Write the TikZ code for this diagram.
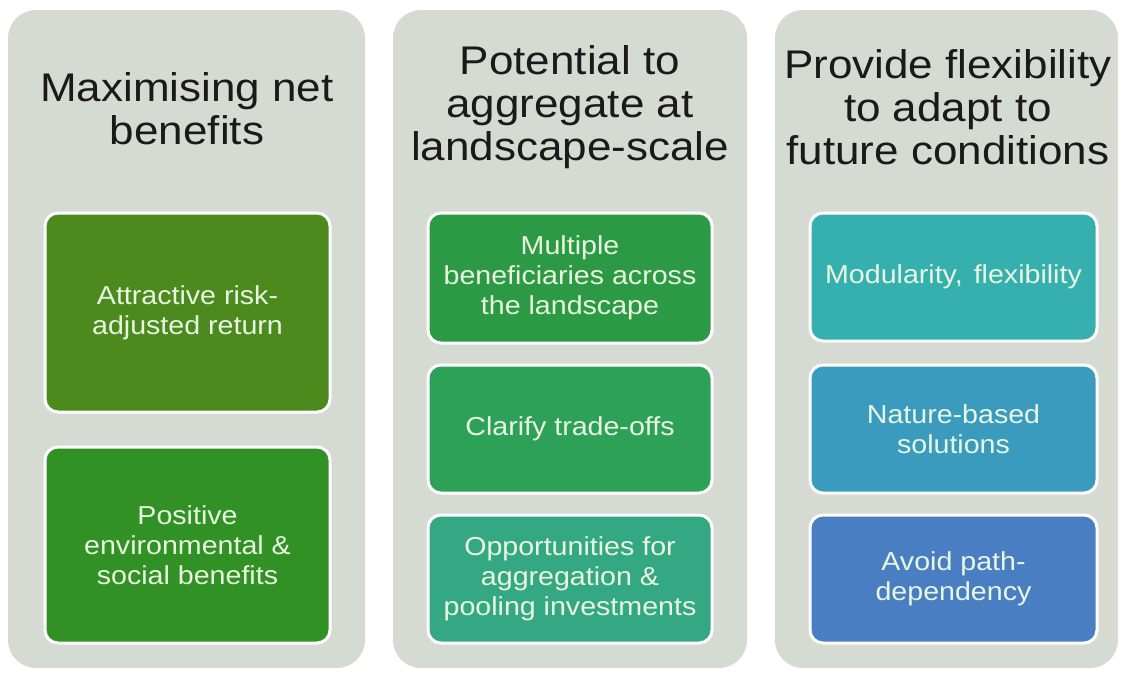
\documentclass[tikz,border=0pt]{standalone}
\usepackage{fontspec}
\setmainfont{Liberation Sans}[FakeStretch=1.1]
\usepackage{xcolor}
\usetikzlibrary{positioning}
\definecolor{panelbg}{RGB}{213,219,211}
\definecolor{titletext}{RGB}{26,26,26}
\definecolor{itemtext}{RGB}{232,245,224}
\definecolor{olive}{RGB}{76,138,30}
\definecolor{leaf}{RGB}{50,145,36}
\definecolor{grass}{RGB}{44,154,68}
\definecolor{jade}{RGB}{46,161,88}
\definecolor{seagreen}{RGB}{52,168,130}
\definecolor{teal}{RGB}{54,176,174}
\definecolor{ocean}{RGB}{58,155,190}
\definecolor{sky}{RGB}{74,126,194}

\begin{document}
\begin{tikzpicture}[
    x=1pt, y=-1pt,
    panel/.style={rectangle, rounded corners=28pt, fill=panelbg, minimum height=658pt, inner sep=0pt},
    title/.style={align=center, text=titletext, font=\fontsize{40}{43}\selectfont},
    item/.style={rectangle, draw=white, line width=3pt, rounded corners=13pt, inner sep=0pt, align=center, text=itemtext, font=\fontsize{26}{30}\selectfont},
]
    \useasboundingbox[fill=white] (0,0) rectangle (1122,673);

    % Column 1: net benefits
    \node[panel, minimum width=357pt] (benefits) at (186.5,339) {};
    \node[title] (benefitstitle) at (187,109) {Maximising net\\benefits};
    \node[item, fill=olive, minimum width=285pt, minimum height=199pt] (return) at (187.5,312.5) {Attractive risk-\\adjusted return};
    \node[item, fill=leaf, minimum width=285pt, minimum height=196pt] (social) at (187.5,545) {Positive\\environmental \&\\social benefits};

    % Column 2: landscape-scale
    \node[panel, minimum width=354pt] (landscape) at (570,339) {};
    \node[title] (landscapetitle) at (570,107) {Potential to\\aggregate at\\landscape-scale};
    \node[item, fill=grass, minimum width=284pt, minimum height=130pt] (beneficiaries) at (570,278) {Multiple\\beneficiaries across\\the landscape};
    \node[item, fill=jade, minimum width=284pt, minimum height=128pt] (tradeoffs) at (570,429) {Clarify trade-offs};
    \node[item, fill=seagreen, minimum width=284pt, minimum height=128pt] (pooling) at (570,579) {Opportunities for\\aggregation \&\\pooling investments};

    % Column 3: flexibility
    \node[panel, minimum width=343pt] (flexibility) at (946.5,339) {};
    \node[title] (flexibilitytitle) at (948,107) {Provide flexibility\\to adapt to\\future conditions};
    \node[item, fill=teal, minimum width=287pt, minimum height=128pt] (modularity) at (953.5,277) {Modularity,\hspace{3pt} flexibility};
    \node[item, fill=ocean, minimum width=287pt, minimum height=128pt] (nature) at (953.5,429) {Nature-based\\solutions};
    \node[item, fill=sky, minimum width=287pt, minimum height=128pt] (pathdep) at (953.5,579) {Avoid path-\\dependency};
\end{tikzpicture}
\end{document}
